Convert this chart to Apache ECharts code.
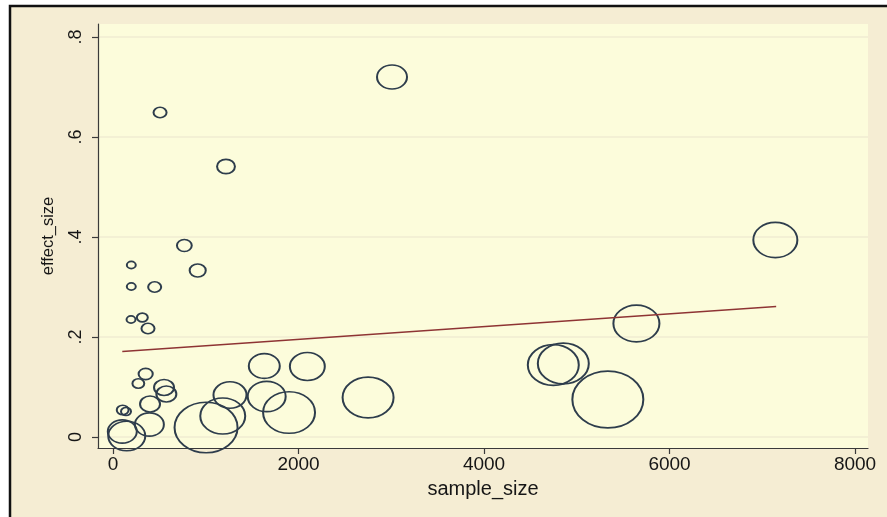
<!DOCTYPE html>
<html><head><meta charset="utf-8">
<script src="https://cdn.jsdelivr.net/npm/echarts@6/dist/echarts.min.js"></script>
<style>html,body{margin:0;padding:0;background:#fff}#c{width:887px;height:517px}</style>
</head><body><div id="c"></div>
<script>
// study-level data
const sampleSize = [507,1218,769,913,197,197,449,194,316,377,3008,7141,352,273,550,575,399,104,140,392,100,148,1003,1183,1261,1631,1657,1898,2095,2750,4747,4855,5335,5643];
const effectSize = [0.649,0.541,0.383,0.333,0.344,0.301,0.300,0.235,0.239,0.217,0.720,0.394,0.126,0.107,0.099,0.086,0.066,0.054,0.051,0.025,0.011,0.002,0.019,0.042,0.084,0.142,0.081,0.049,0.141,0.079,0.144,0.147,0.075,0.227];
const weight = [17,32,22,26,8,8,17,8,12,17,90,194,20,14,40,40,40,14,10,84,84,137,397,202,109,96,144,270,122,260,260,260,504,212];
// fitted line end points
const fitX = [100, 7150];
const fitY = [0.171, 0.261];
// axes
const xTicks = [0, 2000, 4000, 6000, 8000];
const xTickLabels = ['0', '2000', '4000', '6000', '8000'];
const yTicks = [0, 0.2, 0.4, 0.6, 0.8];
const yTickLabels = ['0', '.2', '.4', '.6', '.8'];
const xTitle = 'sample_size';
const yTitle = 'effect_size';

const points = sampleSize.map((x, i) => [x, effectSize[i], weight[i]]);
const fitLine = fitX.map((x, i) => [x, fitY[i]]);
const pick = (ticks, labels) => v => labels[ticks.findIndex(t => Math.abs(t - v) < 1e-9)] ?? '';

const chart = echarts.init(document.getElementById('c'), null, {renderer: 'canvas'});
const axisColor = '#3a3a3a';
const textColor = '#161616';
chart.setOption({
  backgroundColor: '#ffffff',
  animation: false,
  graphic: [{
    type: 'rect', z: -10, silent: true,
    shape: {x: 10, y: 6, width: 900, height: 530},
    style: {fill: '#F5EDD3', stroke: '#111', lineWidth: 2.5}
  }],
  grid: {
    left: 98, top: 24, right: 19, bottom: 69,
    show: true, backgroundColor: '#FCFCDB', borderWidth: 0
  },
  xAxis: {
    type: 'value', min: -162, max: 8140,
    name: xTitle, nameLocation: 'middle', nameGap: 31,
    nameTextStyle: {fontFamily: 'Liberation Sans', fontSize: 20, color: textColor},
    axisLine: {show: true, onZero: false, lineStyle: {color: axisColor, width: 1.2}},
    axisTick: {show: true, length: 6, customValues: xTicks, lineStyle: {color: axisColor, width: 1.2}},
    axisLabel: {customValues: xTicks, margin: 7, fontFamily: 'Liberation Sans', fontSize: 19, color: textColor,
      formatter: pick(xTicks, xTickLabels)},
    splitLine: {show: false}
  },
  yAxis: {
    type: 'value', min: -0.022, max: 0.826,
    name: yTitle, nameLocation: 'middle', nameGap: 41, nameRotate: 90,
    nameTextStyle: {fontFamily: 'Liberation Sans', fontSize: 16.5, color: textColor},
    axisLine: {show: true, onZero: false, lineStyle: {color: axisColor, width: 1.2}},
    axisTick: {show: true, length: 6, customValues: yTicks, lineStyle: {color: axisColor, width: 1.2}},
    axisLabel: {customValues: yTicks, rotate: 90, margin: 13, fontFamily: 'Liberation Sans', fontSize: 18, color: textColor,
      formatter: pick(yTicks, yTickLabels)},
    splitLine: {show: true, lineStyle: {color: '#F1EDD2', width: 1.5}}
  },
  series: [{
    type: 'scatter', data: points, clip: false, z: 3,
    symbol: 'circle',
    symbolSize: d => { const w = Math.sqrt(d[2] * 10); return [w, w * 0.8]; },
    itemStyle: {color: 'rgba(0,0,0,0)', borderColor: '#2E3D4C', borderWidth: 1.8, opacity: 1}
  }, {
    type: 'line', data: fitLine, symbol: 'none', z: 4,
    lineStyle: {color: '#8E3434', width: 1.5}
  }]
});
</script></body></html>
